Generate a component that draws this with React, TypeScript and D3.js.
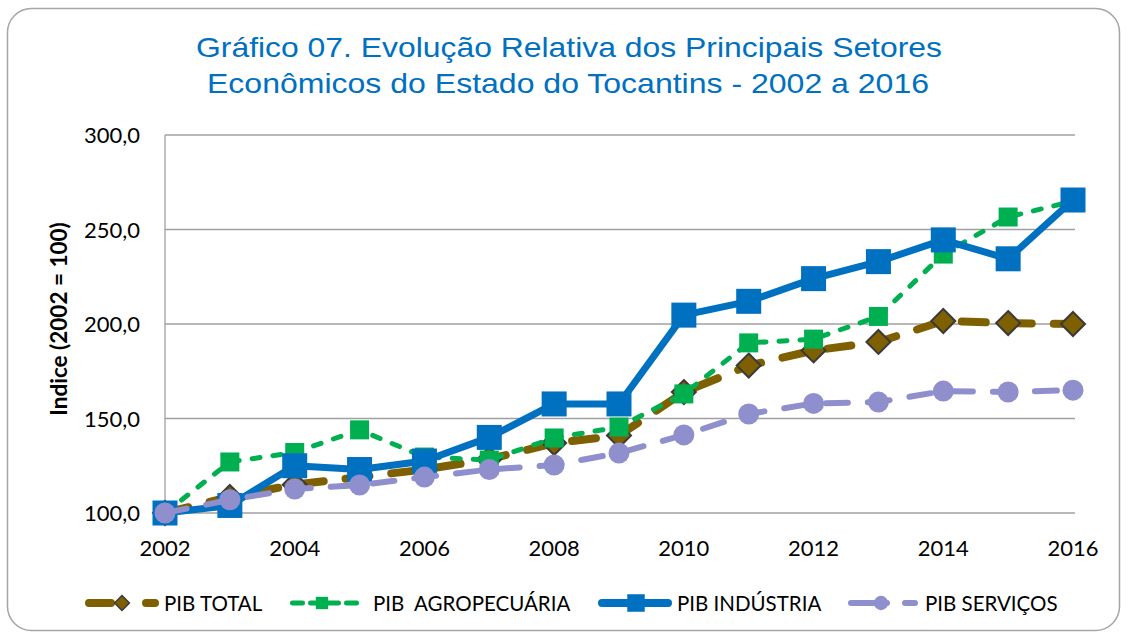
import React from "react";
import * as d3 from "d3";

const years = [2002, 2003, 2004, 2005, 2006, 2007, 2008, 2009, 2010, 2011, 2012, 2013, 2014, 2015, 2016];
const pibTotal = [100, 108.5, 115, 119, 123, 128.5, 137, 141, 164, 178, 186, 190.5, 201.6, 200.5, 200];
const pibAgro = [100, 127, 132, 144, 129.6, 128, 139.7, 145.5, 163, 190, 192, 204, 237, 256.6, 265];
const pibIndustria = [100, 104, 125, 123, 127.5, 140, 157.7, 157.7, 204.7, 212, 224, 233, 244.5, 234.5, 265.6];
const pibServicos = [100, 107, 112.7, 114.8, 119, 123, 125.4, 131.7, 141.3, 152.4, 158, 158.7, 164.5, 164, 165];
const yTicks = [100, 150, 200, 250, 300];
const xTicks = [2002, 2004, 2006, 2008, 2010, 2012, 2014, 2016];
const seriesNames = ["PIB TOTAL", "PIB  AGROPECUÁRIA", "PIB INDÚSTRIA", "PIB SERVIÇOS"];

const W = 1128, H = 635;
const plot = { left: 165, right: 1073, top: 135, bottom: 513 };

export default function App() {
  const x = d3.scaleLinear().domain([2002, 2016]).range([plot.left, plot.right]);
  const y = d3.scaleLinear().domain([100, 300]).range([plot.bottom, plot.top]);
  const line = d3.line<number>().x((_, i) => x(years[i])).y((v) => y(v));

  const series = [
    { name: seriesNames[0], data: pibTotal, color: "#7F6000", width: 8, dash: "24 22", marker: "diamond",
      lg: { x1: 89, x2: 155, dash: "22 35", w: 8, mx: 122 } },
    { name: seriesNames[1], data: pibAgro, color: "#00B050", width: 5, dash: "8 13", marker: "squareS",
      lg: { x1: 292.5, x2: 357.5, dash: "10 8", w: 5, mx: 322 } },
    { name: seriesNames[2], data: pibIndustria, color: "#0070C0", width: 7, dash: "", marker: "squareL",
      lg: { x1: 602, x2: 668, dash: "", w: 8, mx: 636 } },
    { name: seriesNames[3], data: pibServicos, color: "#8F8FCE", width: 6, dash: "22 20", marker: "circle",
      lg: { x1: 851, x2: 915, dash: "36 18", w: 6, mx: 881 } },
  ];
  const textX = [164, 373, 677, 925];

  const marker = (type: string, cx: number, cy: number, color: string, key: any, k = 1) => {
    if (type === "diamond") {
      const s = 12 * k;
      return (
        <path key={key} d={`M${cx},${cy - s}L${cx + s},${cy}L${cx},${cy + s}L${cx - s},${cy}Z`}
          fill={color} stroke="#3a3a3a" strokeWidth={2 * Math.min(1, k * 1.2)} />
      );
    }
    if (type === "squareS") {
      const s = 19 * k;
      return <rect key={key} x={cx - s / 2} y={cy - s / 2} width={s} height={s} fill={color} />;
    }
    if (type === "squareL") {
      const s = 25 * k;
      return <rect key={key} x={cx - s / 2} y={cy - s / 2} width={s} height={s} fill={color} />;
    }
    return <circle key={key} cx={cx} cy={cy} r={10.5 * k} fill={color} />;
  };

  const legendY = 603;
  const titleFont = "'Liberation Sans', Arial, sans-serif";

  return (
    <svg width={W} height={H} style={{ position: "absolute", left: 0, top: 0, background: "#fff" }}
      fontFamily="Lato, sans-serif">
      <rect x={7.5} y={8.5} width={1112} height={622} rx={24} fill="#fff" stroke="#a6a6a6" strokeWidth={1.5} />
      <text x={569} y={57} textAnchor="middle" fontFamily={titleFont} fontSize={28} fill="#0070C0"
        textLength={746} lengthAdjust="spacingAndGlyphs">
        Gráfico 07. Evolução Relativa dos Principais Setores
      </text>
      <text x={568} y={93} textAnchor="middle" fontFamily={titleFont} fontSize={28} fill="#0070C0"
        textLength={722} lengthAdjust="spacingAndGlyphs">
        Econômicos do Estado do Tocantins - 2002 a 2016
      </text>

      {yTicks.map((t) => (
        <g key={t}>
          <line x1={plot.left} x2={plot.right + 2} y1={y(t)} y2={y(t)} stroke="#a0a0a0" strokeWidth={1.3} />
          <text x={140} y={y(t) + 8} textAnchor="end" fontSize={22} fill="#000">
            {d3.format(".1f")(t).replace(".", ",")}
          </text>
        </g>
      ))}
      <line x1={plot.left} x2={plot.left} y1={plot.top} y2={plot.bottom} stroke="#a0a0a0" strokeWidth={1.3} />
      {xTicks.map((t) => (
        <text key={t} x={x(t)} y={556} textAnchor="middle" fontSize={22} fill="#000">{t}</text>
      ))}
      <text transform={`translate(67,319) rotate(-90)`} textAnchor="middle"
        fontSize={22.5} fontWeight="bold" fill="#000">
        Indice (2002 = 100)
      </text>

      {series.map((s, si) => (
        <g key={si}>
          <path d={line(s.data) || ""} fill="none" stroke={s.color} strokeWidth={s.width}
            strokeDasharray={s.dash || undefined} strokeLinecap={s.dash ? "round" : "butt"} strokeLinejoin="round" />
          {s.data.map((v, i) => marker(s.marker, x(years[i]), y(v), s.color, i))}
        </g>
      ))}

      {series.map((s, si) => (
        <g key={"lg" + si}>
          <line x1={s.lg.x1} x2={s.lg.x2} y1={legendY} y2={legendY} stroke={s.color} strokeWidth={s.lg.w}
            strokeDasharray={s.lg.dash || undefined} strokeLinecap="round" />
          {marker(s.marker, s.lg.mx, legendY, s.color, "m", si === 0 ? 0.62 : si === 1 ? 0.65 : si === 2 ? 0.7 : 0.68)}
          <text x={textX[si]} y={legendY + 7.5} fontSize={20.5} fill="#000" style={{ whiteSpace: "pre" }}>{s.name}</text>
        </g>
      ))}
    </svg>
  );
}
